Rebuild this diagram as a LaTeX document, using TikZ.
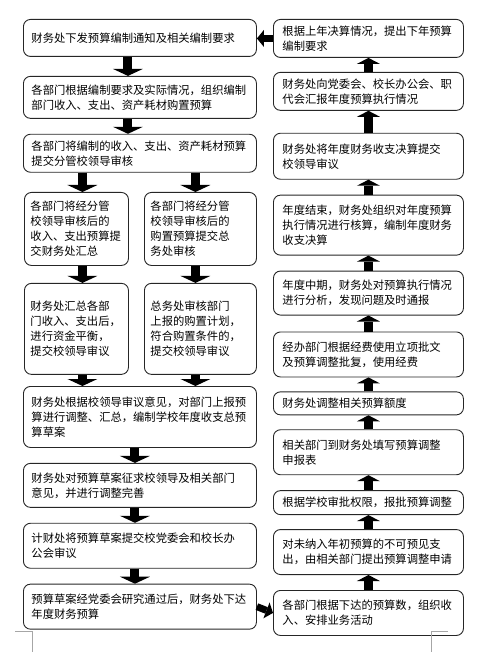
\documentclass[tikz,border=0pt]{standalone}
\usepackage{fontspec}
\setmainfont{Noto Sans CJK SC}
\usepackage{tikz}
\usetikzlibrary{arrows.meta,positioning}

\begin{document}
\begin{tikzpicture}[
    x=1pt, y=-1pt,
    lbox/.style={rectangle, draw=black!85, line width=0.9pt, rounded corners=7pt, align=left, text width=217pt, inner xsep=8pt, inner ysep=3pt, font=\fontsize{11.3pt}{15pt}\selectfont},
    rbox/.style={lbox, text width=172pt, inner xsep=9pt},
    nbox/.style={lbox, text width=92pt, inner xsep=6pt},
    arrow/.style={-{Triangle[length=7pt, width=30pt, line width=0pt]}, line width=9pt},
    uarrow/.style={-{Triangle[length=6pt, width=23pt, line width=0pt]}, line width=9pt},
    harrow/.style={-{Triangle[length=7pt, width=17pt, line width=0pt]}, line width=7pt},
    cropline/.style={draw=black!35, line width=0.6pt}
]
    \useasboundingbox (0,0) rectangle (500,652);

    % left column
    \node [lbox, minimum height=37pt, anchor=north west] (l1) at (23,19) {财务处下发预算编制通知及相关编制要求};
    \node [lbox, minimum height=42pt, below=19pt of l1] (l2) {各部门根据编制要求及实际情况，组织编制\\部门收入、支出、资产耗材购置预算};
    \node [lbox, minimum height=38pt, below=15pt of l2] (l3) {各部门将编制的收入、支出、资产耗材预算\\提交分管校领导审核};
    \node [nbox, minimum height=73pt, anchor=north west] (l4a) at (24,192) {各部门将经分管\\校领导审核后的\\收入、支出预算提\\交财务处汇总};
    \node [nbox, text width=100pt, minimum height=73pt, anchor=north west] (l4b) at (144,192) {各部门将经分管\\校领导审核后的\\购置预算提交总\\务处审核};
    \node [nbox, minimum height=91pt, below=17pt of l4a] (l5a) {财务处汇总各部\\门收入、支出后，\\进行资金平衡，\\提交校领导审议};
    \node [nbox, text width=100pt, minimum height=91pt, below=17pt of l4b] (l5b) {总务处审核部门\\上报的购置计划，\\符合购置条件的，\\提交校领导审议};
    \node [lbox, minimum height=61pt, anchor=north west] (l6) at (23,386) {财务处根据校领导审议意见，对部门上报预\\算进行调整、汇总，编制学校年度收支总预\\算草案};
    \node [lbox, minimum height=44pt, below=15pt of l6] (l7) {财务处对预算草案征求校领导及相关部门\\意见，并进行调整完善};
    \node [lbox, minimum height=45pt, below=15pt of l7] (l8) {计财处将预算草案提交校党委会和校长办\\公会审议};
    \node [lbox, minimum height=45pt, below=15pt of l8] (l9) {预算草案经党委会研究通过后，财务处下达\\年度财务预算};

    % right column
    \node [rbox, minimum height=38pt, anchor=north west] (r1) at (273,19) {根据上年决算情况，提出下年预算\\编制要求};
    \node [rbox, minimum height=38pt, below=14pt of r1] (r2) {财务处向党委会、校长办公会、职\\代会汇报年度预算执行情况};
    \node [rbox, minimum height=46pt, below=22pt of r2] (r3) {财务处将年度财务收支决算提交\\校领导审议};
    \node [rbox, minimum height=60pt, below=15pt of r3] (r4) {年度结束，财务处组织对年度预算\\执行情况进行核算，编制年度财务\\收支决算};
    \node [rbox, minimum height=44pt, below=15pt of r4] (r5) {年度中期，财务处对预算执行情况\\进行分析，发现问题及时通报};
    \node [rbox, minimum height=45pt, below=16pt of r5] (r6) {经办部门根据经费使用立项批文\\及预算调整批复，使用经费};
    \node [rbox, minimum height=23pt, below=14pt of r6] (r7) {财务处调整相关预算额度};
    \node [rbox, minimum height=45pt, below=14pt of r7] (r8) {相关部门到财务处填写预算调整\\申报表};
    \node [rbox, minimum height=24pt, below=15pt of r8] (r9) {根据学校审批权限，报批预算调整};
    \node [rbox, minimum height=45pt, below=14pt of r9] (r10) {对未纳入年初预算的不可预见支\\出，由相关部门提出预算调整申请};
    \node [rbox, minimum height=45pt, below=15pt of r10] (r11) {各部门根据下达的预算数，组织收\\入、安排业务活动};

    % down the left
    \draw [arrow] ([xshift=-12pt]l1.south) -- ([xshift=-12pt]l2.north);
    \draw [arrow] ([xshift=-12pt]l2.south) -- ([xshift=-12pt]l3.north);
    \draw [arrow] ([xshift=6pt]l4a.north |- l3.south) -- ([xshift=6pt]l4a.north);
    \draw [arrow] ([xshift=-5pt]l4b.north |- l3.south) -- ([xshift=-5pt]l4b.north);
    \draw [arrow] ([xshift=6pt]l4a.south) -- ([xshift=6pt]l5a.north);
    \draw [arrow] ([xshift=-5pt]l4b.south) -- ([xshift=-5pt]l5b.north);
    \draw [arrow] ([xshift=6pt]l5a.south) -- ([xshift=6pt]l5a.south |- l6.north);
    \draw [arrow] ([xshift=-5pt]l5b.south) -- ([xshift=-5pt]l5b.south |- l6.north);
    \draw [arrow] ([xshift=-5pt]l6.south) -- ([xshift=-5pt]l7.north);
    \draw [arrow] ([xshift=-5pt]l7.south) -- ([xshift=-5pt]l8.north);
    \draw [arrow] ([xshift=-5pt]l8.south) -- ([xshift=-5pt]l9.north);
    \draw [harrow] (l9.east) -- (r11.west);

    % up the right
    \draw [uarrow] (r11.north) -- (r10.south);
    \draw [uarrow] (r10.north) -- (r9.south);
    \draw [uarrow] (r9.north) -- (r8.south);
    \draw [uarrow] (r8.north) -- (r7.south);
    \draw [uarrow] (r7.north) -- (r6.south);
    \draw [uarrow] (r6.north) -- (r5.south);
    \draw [uarrow] (r5.north) -- (r4.south);
    \draw [uarrow] (r4.north) -- (r3.south);
    \draw [uarrow] (r3.north) -- (r2.south);
    \draw [uarrow] (r2.north) -- (r1.south);
    \draw [harrow] (r1.west) -- (r1.west -| l1.east);

    % page corners
    \draw [cropline] (15,631) -- (32,631) -- (32,652);
    \draw [cropline] (448,631) -- (431,631) -- (431,652);
\end{tikzpicture}
\end{document}
